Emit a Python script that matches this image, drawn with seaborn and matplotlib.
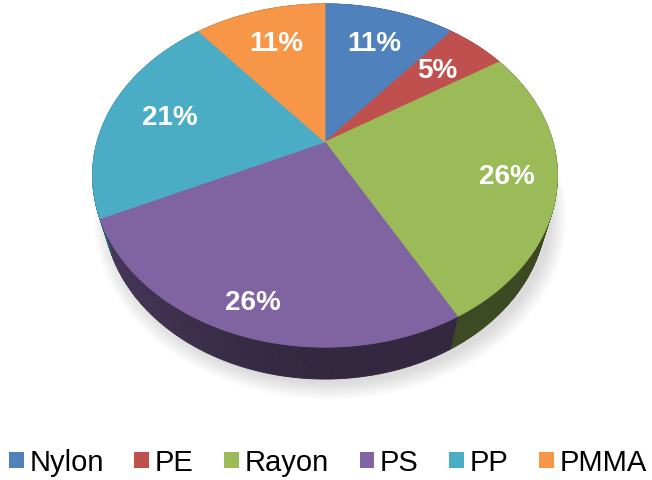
import numpy as np
import matplotlib
matplotlib.use("Agg")
import matplotlib.pyplot as plt
import seaborn as sns
from matplotlib.patches import Patch
from matplotlib.colors import to_rgb

# ---- data ----
categories = ["Nylon", "PE", "Rayon", "PS", "PP", "PMMA"]
values = [11, 5, 26, 26, 21, 11]
pct_labels = ["11%", "5%", "26%", "26%", "21%", "11%"]
hex_colors = ["#4F81BD", "#C0504D", "#9BBB59", "#8064A2", "#4BACC6", "#F79646"]

sns.set_theme(style="white")
plt.rcParams["font.family"] = ["Liberation Sans", "DejaVu Sans"]
palette = sns.color_palette(hex_colors)

# ---- perspective geometry of the 3-D pie ----
CX, CY = 325.0, 143.0          # screen position of pie centre (px)
S = 228.0                       # scale (px per radius)
SIN_E, COS_E = 0.724, 0.690     # elevation of viewer
DIST = 3.53                     # camera distance (radii)
H = 0.236                       # pie thickness (radii)


def proj(u, v, z=0.0):
    depth = 1.0 + (v * COS_E - z * SIN_E) / DIST
    x = u / depth
    y = (v * SIN_E + z * COS_E) / depth
    return CX + S * x, CY - S * y


fig = plt.figure(figsize=(6.52, 4.81), dpi=100)
ax = fig.add_axes([0, 0, 1, 1])
ax.set_xlim(0, 652)
ax.set_ylim(481, 0)
ax.axis("off")

total = float(sum(values))
bounds = np.concatenate([[0.0], np.cumsum(values) / total * 360.0])

# ---- soft shadow ----
th_all = np.radians(np.linspace(0, 360, 361))
for i in range(12):
    sc = 1.0 + 0.006 * i
    xs, ys = proj(np.sin(th_all) * sc, np.cos(th_all) * sc, -H)
    ax.fill(xs + 5, ys + 4, color="#808080", alpha=0.025, lw=0, zorder=0)

# ---- side walls ----
for i, col in enumerate(palette):
    a0, a1 = bounds[i], bounds[i + 1]
    n = max(2, int((a1 - a0) * 2))
    ths = np.linspace(a0, a1, n + 1)
    base = np.array(to_rgb(col))
    for t0, t1 in zip(ths[:-1], ths[1:]):
        r0, r1 = np.radians(t0), np.radians(t1)
        um = np.sin((r0 + r1) / 2)
        f = 0.39 + 0.2 * max(0.0, -um) ** 1.5
        c = tuple(np.clip(base * f, 0, 1))
        u = np.array([np.sin(r0), np.sin(r1), np.sin(r1), np.sin(r0)])
        v = np.array([np.cos(r0), np.cos(r1), np.cos(r1), np.cos(r0)])
        z = np.array([0.0, 0.0, -H, -H])
        xs, ys = proj(u, v, z)
        ax.fill(xs, ys, color=c, lw=0.6, ec=c, zorder=1)

# ---- top faces ----
for i, col in enumerate(palette):
    a0, a1 = bounds[i], bounds[i + 1]
    ths = np.radians(np.linspace(a0, a1, max(3, int((a1 - a0) * 2))))
    u = np.concatenate([[0.0], np.sin(ths)])
    v = np.concatenate([[0.0], np.cos(ths)])
    xs, ys = proj(u, v)
    ax.fill(xs, ys, color=col, lw=0.6, ec=col, zorder=2)

# ---- percentage labels ----
for i, lab in enumerate(pct_labels):
    mid = np.radians((bounds[i] + bounds[i + 1]) / 2)
    um, vm = np.sin(mid), np.cos(mid)
    r = 0.72 + 0.14 * np.sqrt(max(0.0, -vm))
    x, y = proj(r * um, r * vm)
    ax.text(x, y, lab, ha="center", va="center", color="white",
            fontsize=20, fontweight="bold", zorder=3)

# ---- legend ----
handles = [Patch(facecolor=c, edgecolor="none", label=l)
           for c, l in zip(palette, categories)]
fig.legend(handles=handles, loc="center", bbox_to_anchor=(0.503, 0.037),
           ncol=6, frameon=False, fontsize=21, handlelength=0.5,
           handleheight=0.5, handletextpad=0.2, columnspacing=1.05,
           borderaxespad=0, borderpad=0, labelcolor="black")

fig.savefig("out.png", dpi=100)
